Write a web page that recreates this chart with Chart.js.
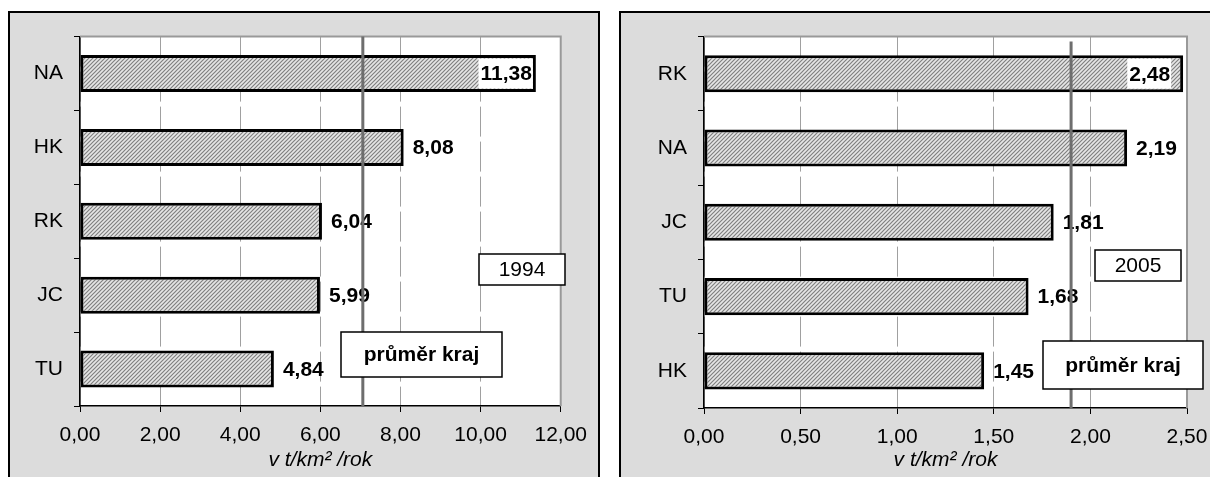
<!DOCTYPE html>
<html>
<head>
<meta charset="utf-8">
<script src="https://cdn.jsdelivr.net/npm/chart.js@4.4.1/dist/chart.umd.min.js"></script>
<style>
  body { margin: 0; width: 1210px; height: 477px; overflow: hidden; position: relative; background: #fff; }
  .panel { position: absolute; top: 11px; background: #dcdcdc; border: 2px solid #000; height: 480px; overflow: hidden; }
  #p1 { left: 8px; width: 588px; }
  #p2 { left: 619px; width: 600px; }
  canvas { display: block; }
</style>
</head>
<body>
<div class="panel" id="p1"><canvas id="c1" width="588" height="466" style="width:588px;height:466px"></canvas></div>
<div class="panel" id="p2"><canvas id="c2" width="600" height="466" style="width:600px;height:466px"></canvas></div>
<script>
// 1994
const regions1994 = ['NA', 'HK', 'RK', 'JC', 'TU'];
const values1994 = [11.38, 8.08, 6.04, 5.99, 4.84];
const avg1994 = 7.06;
const ticks1994 = ['0,00', '2,00', '4,00', '6,00', '8,00', '10,00', '12,00'];

// 2005
const regions2005 = ['RK', 'NA', 'JC', 'TU', 'HK'];
const values2005 = [2.48, 2.19, 1.81, 1.68, 1.45];
const avg2005 = 1.90;
const ticks2005 = ['0,00', '0,50', '1,00', '1,50', '2,00', '2,50'];

const FONT = 'Arial, "Liberation Sans", sans-serif';
const SIZE = 21;
const fmt = v => v.toFixed(2).replace('.', ',');

function hatch(ctx) {
  const c = document.createElement('canvas');
  c.width = 4; c.height = 4;
  const g = c.getContext('2d');
  g.fillStyle = '#e6e6e6';
  g.fillRect(0, 0, 4, 4);
  g.strokeStyle = '#808080';
  g.lineWidth = 1.2;
  g.beginPath();
  g.moveTo(0, 4); g.lineTo(4, 0);
  g.moveTo(-1, 1); g.lineTo(1, -1);
  g.moveTo(3, 5); g.lineTo(5, 3);
  g.stroke();
  return ctx.createPattern(c, 'repeat');
}

function drawBox(ctx, b) {
  ctx.save();
  ctx.fillStyle = '#fff';
  ctx.fillRect(b.x, b.y, b.w, b.h);
  ctx.strokeStyle = '#000';
  ctx.lineWidth = 1.5;
  ctx.strokeRect(b.x, b.y, b.w, b.h);
  ctx.fillStyle = '#000';
  ctx.font = (b.bold ? 'bold ' : '') + SIZE + 'px ' + FONT;
  ctx.textAlign = 'center';
  ctx.textBaseline = 'middle';
  ctx.fillText(b.text, b.x + b.w / 2, b.y + b.h / 2 + 1);
  ctx.restore();
}

const overlay = {
  id: 'overlay',
  beforeDraw(chart) {
    const a = chart.chartArea;
    chart.ctx.save();
    chart.ctx.fillStyle = '#fff';
    chart.ctx.fillRect(a.left, a.top, a.right - a.left, a.bottom - a.top);
    chart.ctx.restore();
  },
  beforeDatasetsDraw(chart) {
    const a = chart.chartArea, ctx = chart.ctx;
    ctx.save();
    ctx.strokeStyle = '#999';
    ctx.lineWidth = 2;
    ctx.beginPath();
    ctx.moveTo(a.left, a.top);
    ctx.lineTo(a.right, a.top);
    ctx.lineTo(a.right, a.bottom);
    ctx.stroke();
    ctx.restore();
  },
  afterDatasetsDraw(chart, args, opts) {
    const ctx = chart.ctx, a = chart.chartArea;
    const meta = chart.getDatasetMeta(0);
    const data = chart.data.datasets[0].data;

    // value labels; a label that would leave the plot goes inside the bar end
    ctx.save();
    ctx.font = 'bold ' + SIZE + 'px ' + FONT;
    ctx.textBaseline = 'middle';
    ctx.textAlign = 'left';
    meta.data.forEach((bar, i) => {
      const txt = fmt(data[i]);
      const w = ctx.measureText(txt).width;
      let x = bar.x + 9;
      if (x + w > a.right) {
        x = bar.x - 3 - opts.insideGap - w;
        ctx.fillStyle = '#fff';
        ctx.fillRect(x - 2, bar.y - 15, w + 3, 30);
      }
      ctx.fillStyle = '#000';
      ctx.fillText(txt, x, bar.y + 1);
    });
    ctx.restore();

    // regional average
    const ax = chart.scales.x.getPixelForValue(opts.average);
    ctx.save();
    ctx.strokeStyle = '#6e6e6e';
    ctx.lineWidth = 3;
    ctx.beginPath();
    ctx.moveTo(ax, a.top + opts.lineStart);
    ctx.lineTo(ax, a.bottom);
    ctx.stroke();
    ctx.restore();

    opts.boxes.forEach(b => drawBox(ctx, b));
  }
};

function makeChart(id, labels, values, tickLabels, max, step, area, extra) {
  const canvas = document.getElementById(id);
  const ctx = canvas.getContext('2d');
  return new Chart(ctx, {
    type: 'bar',
    data: {
      labels: labels,
      datasets: [{
        data: values,
        backgroundColor: hatch(ctx),
        borderColor: '#000',
        borderWidth: 3,
        borderSkipped: false,
        barPercentage: 0.5,
        categoryPercentage: 1.0
      }]
    },
    options: {
      indexAxis: 'y',
      responsive: false,
      animation: false,
      layout: { padding: { top: area.top, right: canvas.width - area.right, left: 0, bottom: 0 } },
      plugins: {
        legend: { display: false },
        tooltip: { enabled: false },
        overlay: extra
      },
      scales: {
        x: {
          min: 0,
          max: max,
          afterFit: s => { s.height = canvas.height - area.bottom; },
          ticks: {
            stepSize: step,
            padding: 11,
            color: '#000',
            font: { family: FONT, size: SIZE },
            callback: (v, i) => tickLabels[i]
          },
          grid: { color: '#a0a0a0', lineWidth: 1, tickColor: '#000', tickLength: 6 },
          border: { color: '#000', width: 1.5, dash: [30, 5] },
          title: {
            display: true,
            text: 'v t/km² /rok',
            color: '#000',
            font: { family: FONT, size: SIZE, style: 'italic' },
            padding: { top: 0, bottom: 6 }
          }
        },
        y: {
          afterFit: s => { s.width = area.left; },
          ticks: {
            padding: 11,
            color: '#000',
            font: { family: FONT, size: SIZE }
          },
          grid: { drawOnChartArea: false, offset: true, tickColor: '#000', tickLength: 6 },
          border: { color: '#000', width: 1.5 }
        }
      }
    },
    plugins: [overlay]
  });
}

makeChart('c1', regions1994, values1994, ticks1994, 12, 2,
  { left: 70, right: 560, top: 18, bottom: 393 },
  {
    average: avg1994,
    lineStart: 0,
    insideGap: 1,
    boxes: [
      { x: 469, y: 241, w: 86, h: 31, text: '1994', bold: false },
      { x: 331, y: 319, w: 161, h: 45, text: 'průměr kraj', bold: true }
    ]
  });

makeChart('c2', regions2005, values2005, ticks2005, 2.5, 0.5,
  { left: 83, right: 566, top: 20, bottom: 395 },
  {
    average: avg2005,
    lineStart: 5,
    insideGap: 10,
    boxes: [
      { x: 474, y: 237, w: 86, h: 31, text: '2005', bold: false },
      { x: 422, y: 328, w: 160, h: 48, text: 'průměr kraj', bold: true }
    ]
  });
</script>
</body>
</html>
